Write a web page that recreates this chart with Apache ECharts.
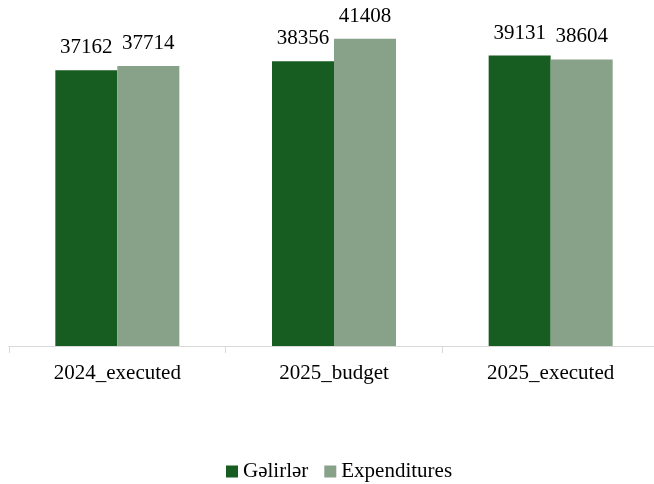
<!DOCTYPE html>
<html>
<head>
<meta charset="utf-8">
<script src="https://cdn.jsdelivr.net/npm/echarts@6/dist/echarts.min.js"></script>
<style>html,body{margin:0;padding:0;background:#fff}#c{width:654px;height:484px}</style>
</head>
<body>
<div id="c"></div>
<script>
const categories = ['2024_executed', '2025_budget', '2025_executed'];
const revenues = [37162, 38356, 39131];
const expenditures = [37714, 41408, 38604];
const seriesNames = ['Gəlirlər', 'Expenditures'];

const font = '"Liberation Serif", "DejaVu Serif", "Times New Roman", serif';
const chart = echarts.init(document.getElementById('c'));
chart.setOption({
  animation: false,
  textStyle: { fontFamily: font },
  grid: { left: 9, width: 650, top: 12, bottom: 138, containLabel: false, outerBoundsMode: 'none' },
  legend: {
    left: 221, bottom: -3,
    itemWidth: 12, itemHeight: 12, itemGap: 16,
    icon: 'rect',
    textStyle: { fontFamily: font, fontSize: 21, color: '#000' },
    data: seriesNames
  },
  xAxis: {
    type: 'category',
    data: categories,
    axisLine: { lineStyle: { color: '#d9d9d9', width: 1 } },
    axisTick: { show: true, length: 7, lineStyle: { color: '#d9d9d9' } },
    axisLabel: { fontFamily: font, fontSize: 21, color: '#000', margin: 17 }
  },
  yAxis: {
    type: 'value', min: 0, max: 45000,
    show: false,
    splitLine: { show: false }
  },
  series: [
    {
      name: seriesNames[0], type: 'bar', data: revenues,
      barWidth: 62, barGap: '0%',
      itemStyle: { color: '#175c20' },
      label: { show: true, position: 'top', distance: 12, fontFamily: font, fontSize: 21, color: '#000' }
    },
    {
      name: seriesNames[1], type: 'bar', data: expenditures,
      barWidth: 62, barGap: '0%',
      itemStyle: { color: '#88a189' },
      label: { show: true, position: 'top', distance: 12, fontFamily: font, fontSize: 21, color: '#000' }
    }
  ]
});
</script>
</body>
</html>
